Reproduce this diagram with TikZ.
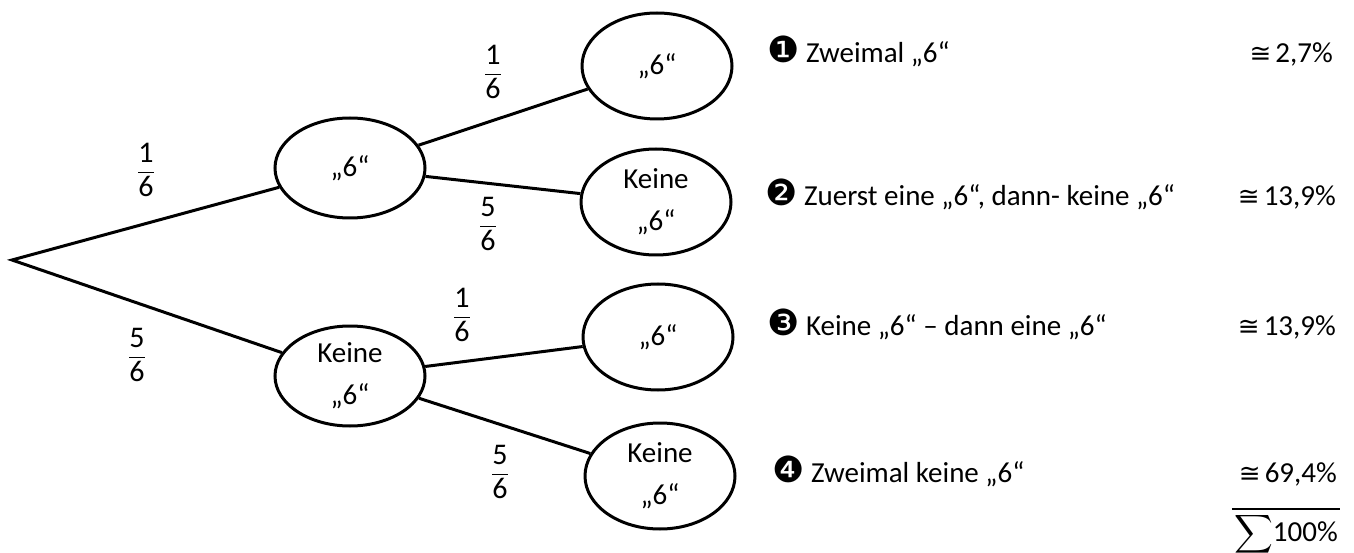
\documentclass[tikz,border=0pt]{standalone}
\usepackage{amsmath}
\usepackage{fontspec}
\setmainfont{Carlito}
\newfontfamily\dejavu{DejaVu Sans}
\usetikzlibrary{shapes.geometric}
\tikzset{
  lbl/.style={font=\fontsize{29}{34}\selectfont, inner sep=0pt},
  ell/.style={ellipse, draw, line width=3pt, minimum width=150pt, minimum height=106pt,
    inner sep=0pt, align=center, font=\fontsize{29}{42}\selectfont},
  ellone/.style={ell, minimum height=100pt},
  branch/.style={line width=3pt, line join=miter},
  fracl/.style={font=\fontsize{30}{34}\selectfont, inner sep=0pt},
}
\newcommand{\bnum}[1]{{\dejavu\fontsize{36}{34}\selectfont #1}}
\newcommand{\tfr}[2]{$\dfrac{\text{#1}}{\text{#2}}$}
\newcommand{\approxeq}{{\dejavu\fontsize{26}{34}\selectfont ≅}\hspace{4pt}}
\begin{document}
\begin{tikzpicture}[x=1pt,y=-1pt]
\useasboundingbox (0,0) rectangle (1354,553);
\coordinate (r) at (12,260);
\node[ellone] (a) at (350,168) {„6“};
\node[ellone] (b) at (350,376) {Keine\\„6“};
\node[ell] (c) at (657,66) {„6“};
\node[ell] (d) at (656,202) {Keine\\„6“};
\node[ell] (e) at (658,337) {„6“};
\node[ell] (f) at (660,476) {Keine\\„6“};
\draw[branch] (a) -- (r) -- (b);
\draw[branch] (a) -- (c);
\draw[branch] (a) -- (d);
\draw[branch] (b) -- (e);
\draw[branch] (b) -- (f);
\node[fracl] (p1) at (146,170) {\tfr{1}{6}};
\node[fracl] (p2) at (137,355) {\tfr{5}{6}};
\node[fracl] (p3) at (493,72) {\tfr{1}{6}};
\node[fracl] (p4) at (488,224) {\tfr{5}{6}};
\node[fracl] (p5) at (462,315) {\tfr{1}{6}};
\node[fracl] (p6) at (500,472) {\tfr{5}{6}};
\node[lbl, anchor=base west] (t1) at (767,63) {\bnum{❶} Zweimal „6“};
\node[lbl, anchor=base west] (t2) at (765,206) {\bnum{❷} Zuerst eine „6“, dann- keine „6“};
\node[lbl, anchor=base west] (t3) at (767,335) {\bnum{❸} Keine „6“ – dann eine „6“};
\node[lbl, anchor=base west] (t4) at (772,482) {\bnum{❹} Zweimal keine „6“};
\node[lbl, anchor=base east] (v1) at (1333,63) {\approxeq 2,7\%};
\node[lbl, anchor=base east] (v2) at (1336,206) {\approxeq 13,9\%};
\node[lbl, anchor=base east] (v3) at (1336,335) {\approxeq 13,9\%};
\node[lbl, anchor=base east] (v4) at (1337,482) {\approxeq 69,4\%};
\node[lbl, anchor=base east] (s) at (1338,541) {\scalebox{1.08}{$\displaystyle\sum$}100\%};
\draw[line width=2pt] ([yshift=4pt,xshift=-2pt]s.north west) -- ([yshift=4pt,xshift=2pt]s.north east);
\end{tikzpicture}
\end{document}
